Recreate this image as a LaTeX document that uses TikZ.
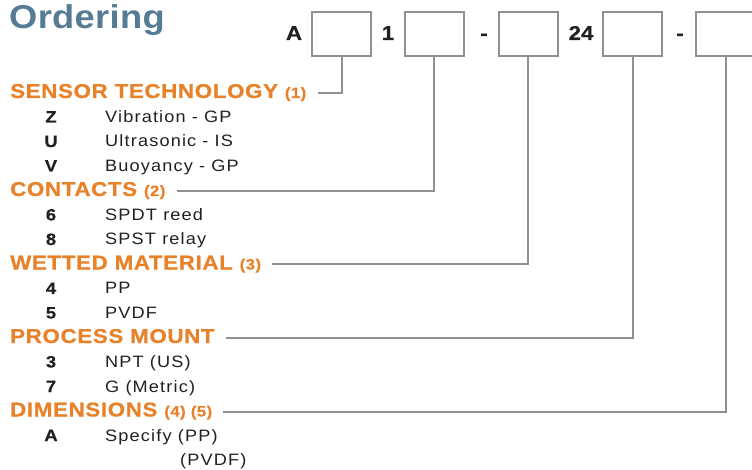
\documentclass[tikz,border=0pt]{standalone}
\usepackage{fontspec}
\setmainfont{Liberation Sans}
\newfontfamily\titlefont[FakeStretch=1.1,LetterSpace=1]{Liberation Sans}
\newfontfamily\headfont[FakeStretch=1.12,LetterSpace=3,FakeBold=0.6]{Liberation Sans}
\newfontfamily\partfont[FakeStretch=1.12,FakeBold=0.4]{Liberation Sans}
\newfontfamily\itemfont[FakeStretch=1.1,LetterSpace=7]{Liberation Sans}
\definecolor{ordblue}{RGB}{85,123,149}
\definecolor{ordorange}{RGB}{232,130,42}
\definecolor{ordgray}{RGB}{143,145,150}
\definecolor{ordtext}{RGB}{35,31,32}

\begin{document}
\begin{tikzpicture}[x=1pt,y=-1pt]
\tikzstyle{slot}=[draw=ordgray,line width=2pt,minimum width=59pt,minimum height=44pt,inner sep=0pt]%
\tikzstyle{lead}=[draw=ordgray,line width=2pt]%
\tikzstyle{head}=[anchor=base west,inner sep=0pt,text=ordorange,font=\headfont\bfseries\fontsize{20}{20}\selectfont]%
\tikzstyle{code}=[anchor=base,inner sep=0pt,text=ordtext,font=\partfont\bfseries\fontsize{16.5}{16.5}\selectfont]%
\tikzstyle{item}=[anchor=base west,inner sep=0pt,text=ordtext,font=\itemfont\fontsize{16.5}{16.5}\selectfont]%
\tikzstyle{part}=[anchor=base,inner sep=0pt,text=ordtext,font=\partfont\bfseries\fontsize{20}{20}\selectfont]%
\clip (0,0) rectangle (752,470);
% title
\node[anchor=base west,inner sep=0pt,text=ordblue,font=\titlefont\bfseries\fontsize{33}{33}\selectfont] (title) at (9,29) {Ordering};
% part number
\node[part] (pA) at (294,40) {A};
\node[part] (p1) at (388,40) {1};
\node[part] (pd1) at (484,40) {-};
\node[part] (p24) at (581,40) {24};
\node[part] (pd2) at (680,40) {-};
\foreach \n/\x in {1/341.5,2/434,3/528,4/632.5,5/725.5}
  \node[slot] (b\n) at (\x,34) {};
% headings
\node[head] (h1) at (10,98) {SENSOR TECHNOLOGY {\fontsize{15}{15}\selectfont(1)}};
\node[head] (h2) at (10,196) {CONTACTS {\fontsize{15}{15}\selectfont(2)}};
\node[head] (h3) at (10,269.5) {WETTED MATERIAL {\fontsize{15}{15}\selectfont(3)}};
\node[head] (h4) at (10,343) {PROCESS MOUNT};
\node[head] (h5) at (10,416.5) {DIMENSIONS {\fontsize{15}{15}\selectfont(4) (5)}};
% options
\foreach \k/\c/\t in {1/Z/Vibration - GP,2/U/Ultrasonic - IS,3/V/Buoyancy - GP,5/6/SPDT reed,6/8/SPST relay,8/4/PP,9/5/PVDF,11/3/NPT (US),12/7/G (Metric),14/A/Specify (PP)}{
  \node[code] (c\k) at (51,98+24.5*\k) {\c};
  \node[item] (t\k) at (105,98+24.5*\k) {\t};
}
\node[item] (t15) at (180,465.5) {(PVDF)};
% leads
\foreach \n in {1,...,5}
  \draw[lead] ([xshift=11pt,yshift=5pt]h\n.base east) -| (b\n.south);
\end{tikzpicture}
\end{document}
